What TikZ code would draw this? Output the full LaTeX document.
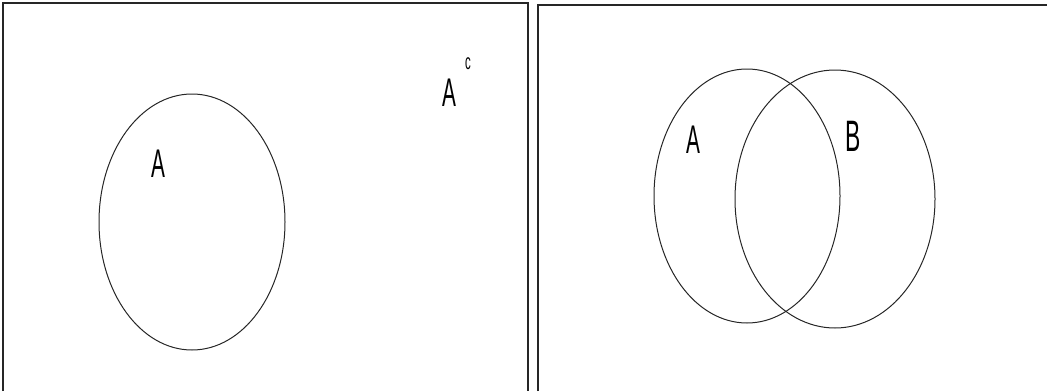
\documentclass[tikz,border=0pt]{standalone}
\usepackage{fontspec}
\setmainfont{Liberation Sans}
\tikzset{
  frameline/.style={line width=1.8pt, draw=black!85},
  setcurve/.style={line width=1pt, draw=black!85},
  lbl/.style={inner sep=0pt, font=\fontsize{40}{40}\selectfont},
}
\newcommand{\narrow}[1]{\scalebox{0.52}[1]{#1}}
\begin{document}
\begin{tikzpicture}[x=1pt,y=-1pt]
\useasboundingbox (0,0) rectangle (1047,391);
% frames
\coordinate (l1) at (3,391);
\coordinate (l2) at (3,3);
\coordinate (l3) at (528,3);
\coordinate (l4) at (528,391);
\draw[frameline] (l1) -- (l2) -- (l3) -- (l4);
\coordinate (r1) at (538,391);
\coordinate (r2) at (538,5);
\coordinate (r3) at (1047,5);
\draw[frameline] (r1) -- (r2) -- (r3);
% ellipses
\draw[setcurve] (192,222) ellipse [x radius=93, y radius=128];
\draw[setcurve] (747,196) ellipse [x radius=93, y radius=127];
\draw[setcurve] (835,199) ellipse [x radius=100, y radius=129];
% labels
\node[lbl] (a1) at (158,164) {\narrow{A}};
\node[lbl] (ac) at (449,93) {\narrow{A}};
\node[lbl, font=\fontsize{22}{22}\selectfont] (c) at (468,64) {\narrow{c}};
\node[lbl] (a2) at (693,140) {\narrow{A}};
\node[lbl, font=\fontsize{44}{44}\selectfont] (b) at (853,136) {\narrow{B}};
\end{tikzpicture}
\end{document}
